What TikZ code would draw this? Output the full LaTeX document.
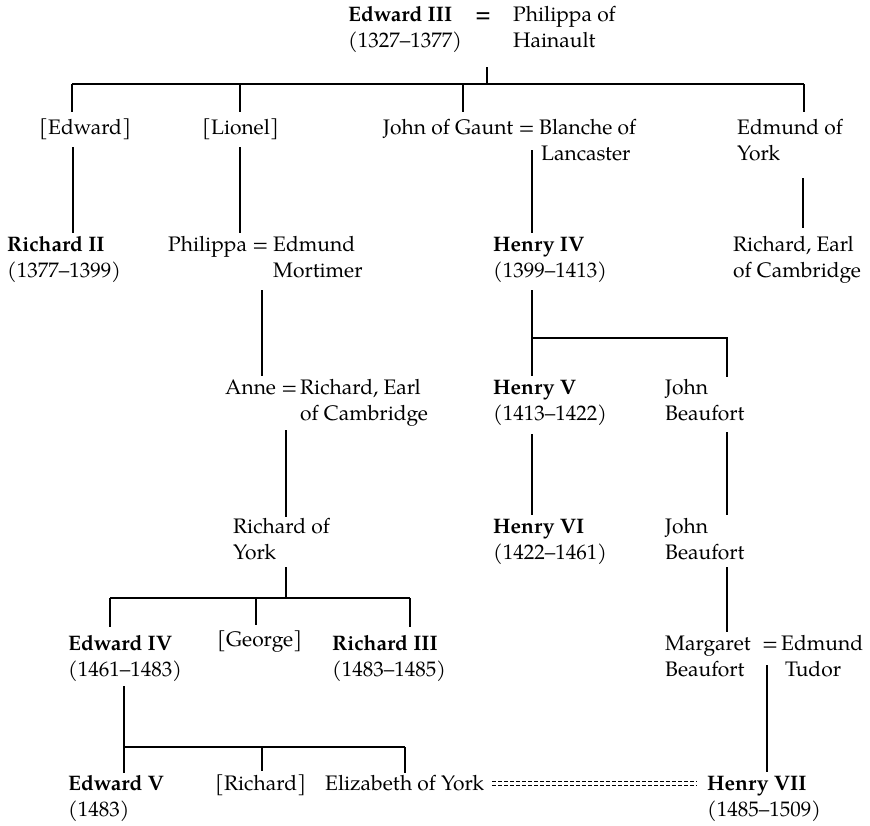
\documentclass[tikz,border=0pt]{standalone}
\usepackage{fontspec}
\setmainfont{texgyrepagella-regular.otf}[BoldFont=texgyrepagella-bold.otf]
\begin{document}
\begin{tikzpicture}[x=1pt,y=-1pt,
  txt/.style={anchor=base west,inner sep=0pt,font=\fontsize{21}{26}\selectfont},
  bx/.style={txt,font=\fontsize{21}{26}\selectfont\bfseries},
  ln/.style={line width=1.1pt},
  dl/.style={line width=0.9pt,dash pattern=on 4pt off 2pt}]
\useasboundingbox (0,0) rectangle (870,825);
% row 1
\node[bx] (e3) at (348,21) {Edward III};
\node[txt] (e3d) at (348,47) {(1327–1377)};
\node[bx] (e3eq) at (475,21) {=};
\node[txt] (ph) at (513,21) {Philippa of};
\node[txt] (phb) at (513,47) {Hainault};
% row 2
\node[txt] (ed) at (39,134) {[Edward]};
\node[txt] (li) at (202,134) {[Lionel]};
\node[txt] (jg) at (383,134) {John of Gaunt =};
\node[txt] (bl) at (539,134) {Blanche of};
\node[txt] (blb) at (541,160) {Lancaster};
\node[txt] (ey) at (737,134) {Edmund of};
\node[txt] (eyb) at (737,160) {York};
% row 3
\node[bx] (r2) at (7,251) {Richard II};
\node[txt] (r2d) at (7,277) {(1377–1399)};
\node[txt] (pp) at (168,251) {Philippa =};
\node[txt] (em) at (273,251) {Edmund};
\node[txt] (emb) at (273,277) {Mortimer};
\node[bx] (h4) at (493,251) {Henry IV};
\node[txt] (h4d) at (493,277) {(1399–1413)};
\node[txt] (rc) at (733,251) {Richard, Earl};
\node[txt] (rcb) at (733,277) {of Cambridge};
% row 4
\node[txt] (an) at (225,394) {Anne =};
\node[txt] (rc2) at (300,394) {Richard, Earl};
\node[txt] (rc2b) at (300,420) {of Cambridge};
\node[bx] (h5) at (493,394) {Henry V};
\node[txt] (h5d) at (493,420) {(1413–1422)};
\node[txt] (jb) at (665,394) {John};
\node[txt] (jbb) at (665,420) {Beaufort};
% row 5
\node[txt] (ry) at (233,533) {Richard of};
\node[txt] (ryb) at (233,559) {York};
\node[bx] (h6) at (493,533) {Henry VI};
\node[txt] (h6d) at (493,559) {(1422–1461)};
\node[txt] (jb2) at (665,533) {John};
\node[txt] (jb2b) at (665,559) {Beaufort};
% row 6
\node[bx] (e4) at (68,650) {Edward IV};
\node[txt] (e4d) at (68,676) {(1461–1483)};
\node[txt] (ge) at (217,646) {[George]};
\node[bx] (r3) at (332,650) {Richard III};
\node[txt] (r3d) at (332,676) {(1483–1485)};
\node[txt] (mb) at (665,650) {Margaret};
\node[txt] (mbb) at (665,676) {Beaufort};
\node[txt] (mbeq) at (762,650) {=};
\node[txt] (et) at (781,650) {Edmund};
\node[txt] (etb) at (785,676) {Tudor};
% row 7
\node[bx] (e5) at (68,790) {Edward V};
\node[txt] (e5d) at (68,816) {(1483)};
\node[txt] (ri) at (215,790) {[Richard]};
\node[txt] (ey2) at (325,790) {Elizabeth of York};
\node[bx] (h7) at (707,790) {Henry VII};
\node[txt] (h7d) at (707,816) {(1485–1509)};
% junction coordinates
\coordinate (t0) at (487,67);
\coordinate (t1) at (487,84);
\coordinate (tl) at (72,84);
\coordinate (tr) at (804,84);
% connectors
\draw[ln] (t0) -- (t1);
\draw[ln] (tl) -- (tr);
\foreach \x in {72,240,463,804} \draw[ln] (\x,84) -- (\x,112);
\draw[ln] (73,147) -- (73,233);
\draw[ln] (240,147) -- (240,233);
\draw[ln] (532,150) -- (532,233);
\draw[ln] (803,178) -- (803,228);
\draw[ln] (262,290) -- (262,376);
\draw[ln] (532,290) -- (532,376);
\draw[ln] (532,338) -- (727,338) -- (727,377);
\draw[ln] (286,430) -- (286,517);
\draw[ln] (532,434) -- (532,515);
\draw[ln] (727,432) -- (727,515);
\draw[ln] (286,567) -- (286,598);
\draw[ln] (110,598) -- (410,598);
\draw[ln] (110,598) -- (110,627);
\draw[ln] (256,598) -- (256,625);
\draw[ln] (410,598) -- (410,627);
\draw[ln] (727,567) -- (727,632);
\draw[ln] (124,686) -- (124,773);
\draw[ln] (124,747) -- (405,747);
\draw[ln] (262,747) -- (262,771);
\draw[ln] (405,747) -- (405,773);
\draw[ln] (767,665) -- (767,772);
\coordinate (dsa) at (492,781.5);
\coordinate (dsb) at (697,781.5);
\coordinate (dsc) at (492,785.5);
\coordinate (dsd) at (697,785.5);
\draw[dl] (dsa) -- (dsb);
\draw[dl] (dsc) -- (dsd);
\end{tikzpicture}
\end{document}
